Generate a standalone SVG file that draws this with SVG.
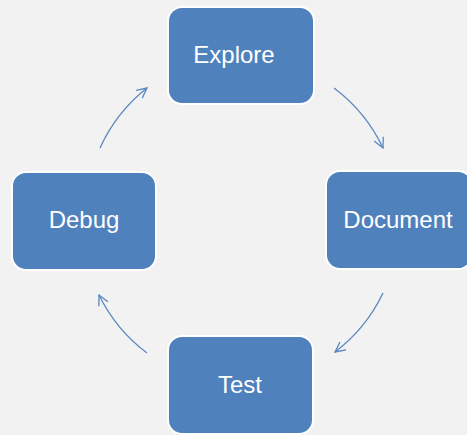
<svg xmlns="http://www.w3.org/2000/svg" width="467" height="435" viewBox="0 0 467 435">
<style>
.node rect{fill:#4f81bd;stroke:#ffffff;stroke-width:2}
.node text{fill:#ffffff;font-family:"Liberation Sans","Noto Sans",sans-serif;font-size:24px;text-anchor:middle}
.conn path{fill:none;stroke:#5b87c0;stroke-width:1.3}
</style>
<defs>
<marker id="ah" viewBox="0 0 12 12" refX="11" refY="6" markerWidth="12" markerHeight="12" markerUnits="userSpaceOnUse" orient="auto">
<path d="M1,1 L11,6 L1,11" fill="none" stroke="#5b87c0" stroke-width="1.3"/>
</marker>
</defs>
<rect width="467" height="435" fill="#f2f2f2"/>
<g class="conn">
<path d="M334,88 A161,161 0 0 1 383,148" marker-end="url(#ah)"/>
<path d="M383,293 A161,161 0 0 1 335,352" marker-end="url(#ah)"/>
<path d="M147,353 A161,161 0 0 1 99,295" marker-end="url(#ah)"/>
<path d="M100,148 A161,161 0 0 1 147,88" marker-end="url(#ah)"/>
</g>
<g id="explore" class="node"><rect x="168" y="7" width="146" height="97" rx="14"/><text x="234" y="63">Explore</text></g>
<g id="document" class="node"><rect x="326" y="171" width="146" height="98" rx="14"/><text x="398" y="228">Document</text></g>
<g id="debug" class="node"><rect x="12" y="172" width="144" height="98" rx="14"/><text x="84" y="228">Debug</text></g>
<g id="test" class="node"><rect x="168" y="336" width="145" height="98" rx="14"/><text x="240" y="393">Test</text></g>
</svg>
